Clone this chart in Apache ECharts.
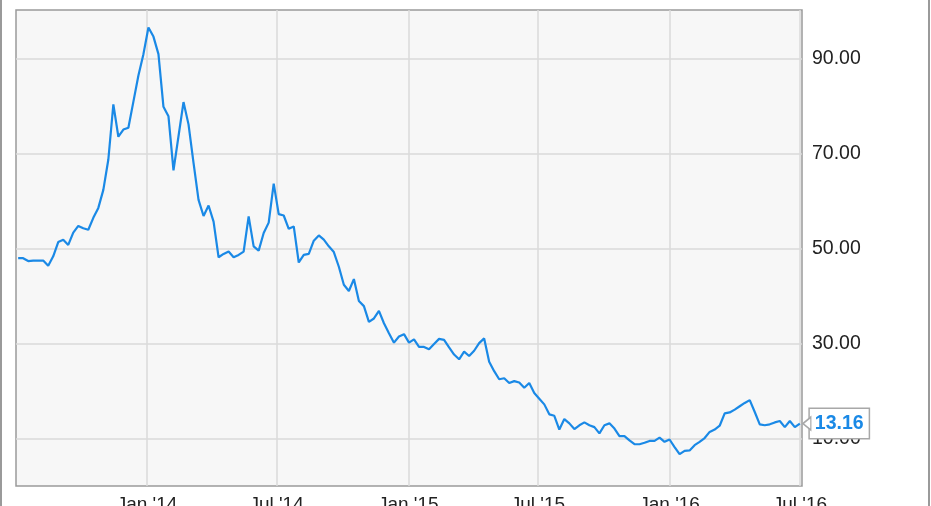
<!DOCTYPE html>
<html>
<head>
<meta charset="utf-8">
<script src="https://cdn.jsdelivr.net/npm/echarts@6/dist/echarts.min.js"></script>
<style>
html,body{margin:0;padding:0;background:#fff;}
#chart{width:931px;height:506px;}
</style>
</head>
<body>
<div id="chart"></div>
<script>
// Weekly closing values (Fridays), starting 2013-07-05
const startDate = [2013, 6, 5];
const weekStepDays = 7;
const values = [
  48.0, 48.0, 47.4, 47.5, 47.5, 47.5, 46.4, 48.4, 51.4, 51.9, 50.8, 53.4, 54.8, 54.3, 54.0, 56.5, 58.6, 62.4, 68.8, 80.4, 73.6, 75.1, 75.5,
  81.0, 86.5, 91.0, 96.6, 94.7, 91.0, 79.9, 77.9, 66.5, 73.7, 80.9, 76.2, 68.1, 60.3, 56.9, 59.1, 55.7,
  48.2, 48.9, 49.4, 48.2, 48.7, 49.4, 56.8, 50.5, 49.6, 53.3, 55.5, 63.7,
  57.3, 57.0, 54.2, 54.7, 47.1, 48.7, 48.9, 51.7, 52.8, 51.9, 50.5, 49.3, 46.2, 42.4, 41.1, 43.6, 39.0, 37.9, 34.6, 35.3, 36.9, 34.3, 32.2, 30.2, 31.5, 32.0, 30.2,
  30.9, 29.3, 29.3, 28.8, 29.9, 31.0, 30.8, 29.2, 27.7, 26.7, 28.3, 27.4, 28.5, 30.1, 31.1, 26.2, 24.2, 22.5, 22.7, 21.7, 22.1, 21.8, 20.7, 21.7, 19.6, 18.4, 17.2, 15.1, 14.8, 11.9, 14.1, 13.2, 12.0, 12.8, 13.4, 12.8, 12.4, 11.1, 12.8, 13.2,
  12.1, 10.5, 10.5, 9.6, 8.8, 8.8, 9.1, 9.5, 9.5, 10.2, 9.3, 9.8, 8.2, 6.7, 7.4, 7.5, 8.6, 9.3, 10.1, 11.4, 11.9, 12.7, 15.3, 15.5, 16.1, 16.8, 17.5, 18.1, 15.6, 13.0, 12.8, 13.0, 13.4, 13.7, 12.4, 13.7, 12.4, 13.16
];
const xTickDates = [[2014,0,1],[2014,6,1],[2015,0,1],[2015,6,1],[2016,0,1],[2016,6,1]];
const xRange = [[2013,6,2],[2016,6,4]];
const yTicks = [10, 30, 50, 70, 90];
const yRange = [0, 100.3];
const monthNames = ['Jan','Feb','Mar','Apr','May','Jun','Jul','Aug','Sep','Oct','Nov','Dec'];

const DAY = 86400000;
const t0 = Date.UTC(startDate[0], startDate[1], startDate[2]);
const seriesData = values.map((v, i) => [t0 + i * weekStepDays * DAY, v]);
const xTicks = xTickDates.map(d => Date.UTC(d[0], d[1], d[2]));

const chart = echarts.init(document.getElementById('chart'), null, {renderer: 'canvas'});
const lineColor = '#1a89e6';
const fontFamily = '"Liberation Sans", Arial, sans-serif';

chart.setOption({
  animation: false,
  grid: {
    left: 16, right: 129, top: 10, bottom: 20,
    containLabel: false,
    outerBoundsMode: 'none',
    show: true, backgroundColor: '#f7f7f7', borderColor: '#9a9a9a', borderWidth: 1.5
  },
  xAxis: {
    type: 'value',
    min: Date.UTC(xRange[0][0], xRange[0][1], xRange[0][2]),
    max: Date.UTC(xRange[1][0], xRange[1][1], xRange[1][2]),
    axisLine: {show: false},
    axisTick: {show: false, customValues: xTicks},
    axisLabel: {
      customValues: xTicks,
      margin: 9,
      fontSize: 19,
      color: '#222',
      fontFamily: fontFamily,
      formatter: function (val) {
        const d = new Date(val);
        return monthNames[d.getUTCMonth()] + " '" + String(d.getUTCFullYear()).slice(2);
      }
    },
    splitLine: {show: true, lineStyle: {color: '#dadada', width: 1.5}}
  },
  yAxis: {
    type: 'value',
    position: 'right',
    min: yRange[0], max: yRange[1],
    axisLine: {show: false},
    axisTick: {show: false, customValues: yTicks},
    axisLabel: {
      customValues: yTicks,
      margin: 10,
      fontSize: 19.5,
      color: '#222',
      fontFamily: fontFamily,
      formatter: v => v.toFixed(2)
    },
    splitLine: {show: true, lineStyle: {color: '#dadada', width: 1.5}}
  },
  graphic: [
    {type: 'rect', left: 0, top: 0, shape: {width: 2, height: 506}, style: {fill: '#9a9a9a'}, silent: true},
    {type: 'rect', right: 1, top: 0, shape: {width: 2, height: 506}, style: {fill: '#9a9a9a'}, silent: true}
  ],
  series: [{
    type: 'line',
    data: seriesData,
    showSymbol: false,
    symbol: 'none',
    lineStyle: {color: lineColor, width: 2.2},
    z: 3,
    endLabel: {
      show: true,
      distance: 10,
      formatter: p => p.value[1].toFixed(2),
      color: lineColor,
      fontWeight: 'bold',
      fontSize: 19.5,
      fontFamily: fontFamily,
      backgroundColor: '#fff',
      borderColor: '#a8a8a8',
      borderWidth: 1.5,
      padding: [5, 5, 4, 5]
    },
    markPoint: {
      silent: true,
      symbol: 'path://M0,6 L9,0 L9,12 Z',
      symbolSize: [8, 13],
      symbolOffset: [7, 0],
      itemStyle: {color: '#fff', borderColor: '#a8a8a8', borderWidth: 1.5},
      label: {show: false},
      data: [{coord: seriesData[seriesData.length - 1]}]
    }
  }]
});
</script>
</body>
</html>
